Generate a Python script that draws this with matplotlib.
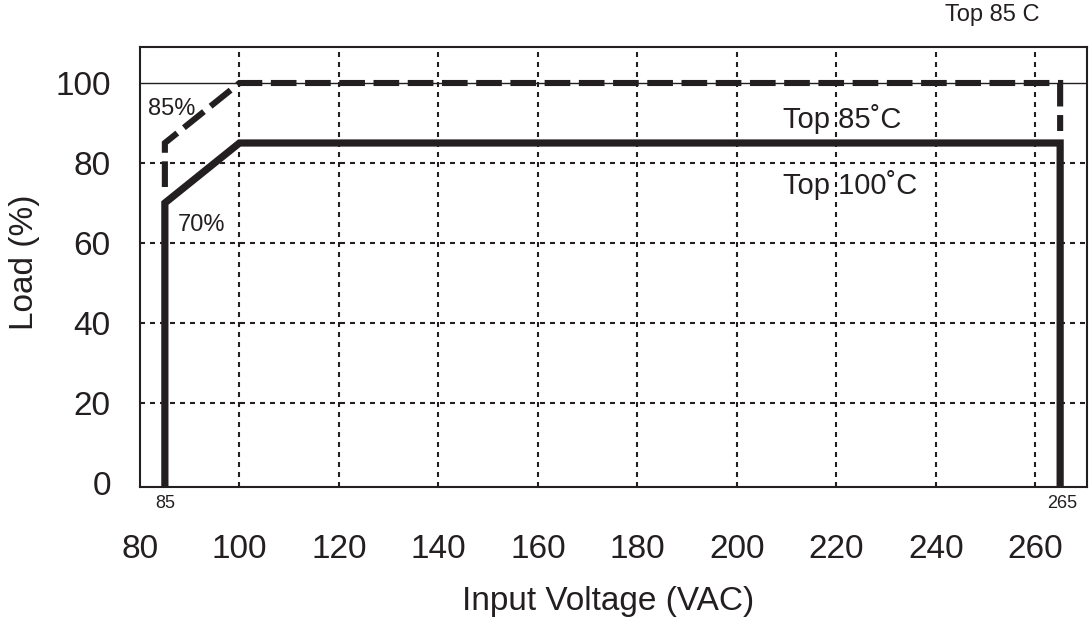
import numpy as np
import matplotlib
matplotlib.use("Agg")
import matplotlib.pyplot as plt

plt.rcParams['font.family'] = ['Liberation Sans', 'DejaVu Sans']

ink = '#231f20'

# Curva a 85 C (discontinua) y a 100 C (continua)
volt_85 = [85, 85, 100, 265, 265]
load_85 = [74, 85, 100, 100, 88]
volt_100 = [85, 85, 100, 265, 265]
load_100 = [0, 70, 85, 85, 0]

x_ticks = [80, 100, 120, 140, 160, 180, 200, 220, 240, 260]
y_ticks = [0, 20, 40, 60, 80, 100]
x_grid = [100, 120, 140, 160, 180, 200, 220, 240, 260]
y_grid = [20, 40, 60, 80]

fig = plt.figure(figsize=(10.89, 6.23), dpi=100)
ax = fig.add_axes([140 / 1089, 1 - 487 / 623, 947 / 1089, 440 / 623])

ax.set_xlim(80.4, 270.4)
ax.set_ylim(-1, 109)

# Rejilla punteada
for gx in x_grid:
    ax.axvline(gx, color=ink, lw=1.5, dashes=(2.4, 2.4), zorder=1)
for gy in y_grid:
    ax.axhline(gy, color=ink, lw=1.5, dashes=(2.4, 2.4), zorder=1)
ax.axhline(100, color=ink, lw=1.0, zorder=1)

ax.plot(volt_100, load_100, color=ink, lw=5.2, solid_joinstyle='miter', zorder=3)
ax.plot(volt_85, load_85, color=ink, lw=4.4, dashes=(4.2, 1.4), solid_joinstyle='miter',
        dash_joinstyle='miter', zorder=3)

# Textos
ax.text(81.6, 93.5, '85%', fontsize=17, color=ink, ha='left', va='center')
ax.text(87.6, 64.5, '70%', fontsize=17, color=ink, ha='left', va='center')
ax.text(209.2, 91, 'Top 85˚C', fontsize=21, color=ink, ha='left', va='center')
ax.text(209.2, 74.5, 'Top 100˚C', fontsize=21, color=ink, ha='left', va='center')
ax.text(85, -5, '85', fontsize=13, color=ink, ha='center', va='center', clip_on=False)
ax.text(265.5, -5, '265', fontsize=13, color=ink, ha='center', va='center', clip_on=False)
fig.text(945 / 1089, 1 - 15 / 623, 'Top 85 C', fontsize=17, color=ink, ha='left', va='center')

ax.set_xticks(x_ticks)
ax.set_yticks(y_ticks)
ax.tick_params(axis='x', length=0, pad=34, labelsize=24, labelcolor=ink)
ax.tick_params(axis='y', length=0, pad=21, labelsize=24, labelcolor=ink)

for s in ax.spines.values():
    s.set_linewidth(1.5)
    s.set_color(ink)

ax.set_xlabel('Input Voltage (VAC)', fontsize=24, color=ink)
ax.set_ylabel('Load (%)', fontsize=24, color=ink)
ax.xaxis.set_label_coords(0.494, -0.225)
ax.yaxis.set_label_coords(-0.1056, 0.511)

fig.savefig('out.png', dpi=100)
